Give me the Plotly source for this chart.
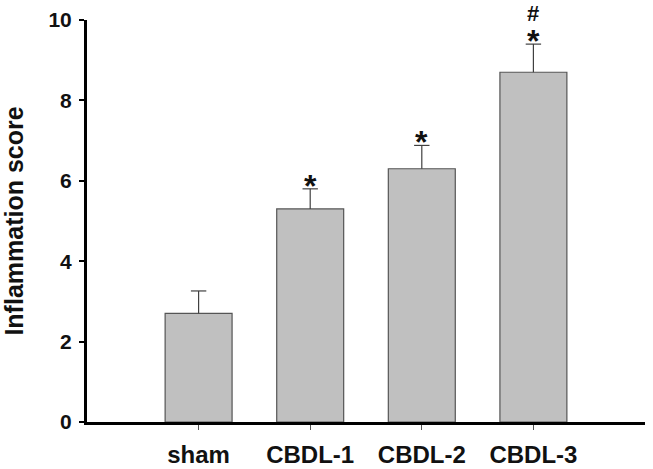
import plotly.graph_objects as go

categories = ["sham", "CBDL-1", "CBDL-2", "CBDL-3"]
means = [2.7, 5.3, 6.3, 8.7]
errors = [0.56, 0.5, 0.58, 0.7]
star_marks = ["", "*", "*", "*"]
hash_marks = ["", "", "", "#"]
y_ticks = [0, 2, 4, 6, 8, 10]

FONT = "Liberation Sans, Arial, sans-serif"
xs = list(range(len(categories)))
tops = [m + e for m, e in zip(means, errors)]

fig = go.Figure()
fig.add_trace(go.Bar(
    x=xs,
    y=means,
    width=0.6,
    marker=dict(color="#c0c0c0", line=dict(color="#555555", width=1.2)),
    error_y=dict(type="data", symmetric=False, array=errors,
                 arrayminus=[0] * len(errors),
                 color="#404040", thickness=1.2, width=0),
    cliponaxis=False,
    showlegend=False,
))
# error bar caps
fig.add_trace(go.Scatter(
    x=xs, y=tops, mode="markers",
    marker=dict(symbol="line-ew-open", size=11, color="#404040",
                line=dict(color="#404040", width=1.2)),
    cliponaxis=False, showlegend=False, hoverinfo="skip",
))

for i, (t, s, h) in enumerate(zip(tops, star_marks, hash_marks)):
    if s:
        fig.add_annotation(x=i, y=t, text="<b>" + s + "</b>", showarrow=False,
                           yanchor="middle", yshift=3,
                           font=dict(family=FONT, size=32, color="#111111"))
    if h:
        fig.add_annotation(x=i, y=t, text="<b>" + h + "</b>", showarrow=False,
                           yanchor="middle", yshift=31,
                           font=dict(family=FONT, size=22, color="#111111"))

fig.update_layout(
    width=653, height=469,
    margin=dict(l=87, r=8, t=20, b=47),
    plot_bgcolor="white", paper_bgcolor="white",
    font=dict(family=FONT, color="#111111"),
    bargap=0.4,
)
fig.update_xaxes(
    range=[-1, 4], automargin=False,
    tickmode="array", tickvals=xs,
    ticktext=["<b>" + c + "</b>" for c in categories],
    tickfont=dict(family=FONT, size=24, color="#111111"),
    ticks="outside", ticklen=5, tickwidth=1, tickcolor="#555555",
    showline=True, linecolor="black", linewidth=3,
    showgrid=False, zeroline=False,
    ticklabelstandoff=4,
)
fig.update_yaxes(
    range=[0, 10], automargin=False,
    tickmode="array", tickvals=y_ticks,
    ticktext=["<b>" + str(t) + "</b>" for t in y_ticks],
    tickfont=dict(family=FONT, size=21, color="#111111"),
    ticks="outside", ticklen=5, tickwidth=1.5, tickcolor="black",
    showline=True, linecolor="black", linewidth=3,
    showgrid=False, zeroline=False,
    ticklabelstandoff=3,
    title=dict(text="<b>Inflammation score</b>",
               font=dict(family=FONT, size=25, color="#111111"), standoff=22),
)

fig.write_html("out.html", config={"displayModeBar": False},
               post_script="document.body.style.margin='0';document.body.style.overflow='hidden';")
